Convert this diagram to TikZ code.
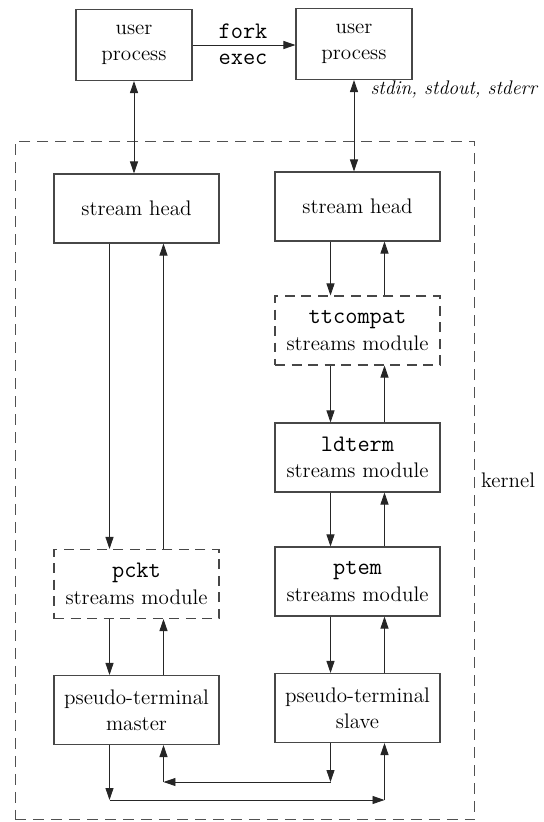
\documentclass[tikz,border=0pt]{standalone}
\usepackage{fontspec}
\usetikzlibrary{arrows.meta,positioning,calc}
\definecolor{ink}{RGB}{38,38,38}
\newcommand{\figsize}{\fontsize{12}{15}\selectfont}
\newcommand{\codefont}{\fontsize{13.5}{15}\selectfont\ttfamily}

\begin{document}
\begin{tikzpicture}[
  x=0.02cm, y=-0.02cm,
  font=\figsize, text=black,
  box/.style={draw=ink!85, line width=0.6pt, align=center, inner sep=2pt,
              minimum width=3.3cm, minimum height=1.38cm},
  ubox/.style={box, minimum width=2.32cm, minimum height=1.42cm},
  dbox/.style={box, dash pattern=on 2mm off 1.3mm},
  kbox/.style={draw=ink!80, line width=0.6pt, dash pattern=on 2.2mm off 1.4mm},
  ar/.style={-{Triangle[length=2.4mm,width=1.6mm]}, draw=ink, line width=0.5pt},
  dar/.style={ar, {Triangle[length=2.4mm,width=1.6mm]}-{Triangle[length=2.4mm,width=1.6mm]}},
  lab/.style={inner sep=3pt},
]
\useasboundingbox (0,0) rectangle (544,822);

\node[ubox] (u1) at (134,45) {user\\process};
\node[ubox] (u2) at (354,44) {user\\process};
\node[lab, font=\codefont, align=center] (fe) at (243,44) {fork\\exec};
\node[lab, anchor=west, font=\fontsize{11.2}{13}\selectfont\itshape] (std) at (365,90) {stdin, stdout, stderr};

\node[kbox, minimum width=9.2cm, minimum height=13.58cm] (kern) at (245,480.5) {};
\node[lab, anchor=west] (klab) at (kern.east) {kernel};

\node[box]  (sh1)    at (136.5,208.5) {stream head};
\node[dbox] (pckt)   at (136.5,584)   {{\codefont pckt}\\streams module};
\node[box]  (master) at (136.5,710)   {pseudo-terminal\\master};

\node[box]  (sh2)   at (357.5,206.5) {stream head};
\node[dbox] (ttc)   at (357.5,330.5) {{\codefont ttcompat}\\streams module};
\node[box]  (ldt)   at (357.5,457.5) {{\codefont ldterm}\\streams module};
\node[box]  (ptem)  at (357.5,581.5) {{\codefont ptem}\\streams module};
\node[box]  (slave) at (357.5,708)   {pseudo-terminal\\slave};

\coordinate (sd) at (330.5,782);
\coordinate (mu) at (163.5,782);
\coordinate (md) at (109.5,800);
\coordinate (su) at (384.5,800);

\draw[ar] (u1.east) -- (u1.east -| u2.west);
\draw[dar] (u1.south) -- (u1.south |- sh1.north);
\draw[dar] (u2.south) -- (u2.south |- sh2.north);

% left side
\draw[ar] ([xshift=-5.4mm]sh1.south) -- ([xshift=-5.4mm]pckt.north);
\draw[ar] ([xshift=5.4mm]pckt.north) -- ([xshift=5.4mm]sh1.south);
\draw[ar] ([xshift=-5.4mm]pckt.south) -- ([xshift=-5.4mm]master.north);
\draw[ar] ([xshift=5.4mm]master.north) -- ([xshift=5.4mm]pckt.south);

% right side
\draw[ar] ([xshift=-5.4mm]sh2.south) -- ([xshift=-5.4mm]ttc.north);
\draw[ar] ([xshift=5.4mm]ttc.north) -- ([xshift=5.4mm]sh2.south);
\draw[ar] ([xshift=-5.4mm]ttc.south) -- ([xshift=-5.4mm]ldt.north);
\draw[ar] ([xshift=5.4mm]ldt.north) -- ([xshift=5.4mm]ttc.south);
\draw[ar] ([xshift=-5.4mm]ldt.south) -- ([xshift=-5.4mm]ptem.north);
\draw[ar] ([xshift=5.4mm]ptem.north) -- ([xshift=5.4mm]ldt.south);
\draw[ar] ([xshift=-5.4mm]ptem.south) -- ([xshift=-5.4mm]slave.north);
\draw[ar] ([xshift=5.4mm]slave.north) -- ([xshift=5.4mm]ptem.south);

% master <-> slave
\draw[ar] (slave.south -| sd) -- (sd);
\draw[ar] (sd) -- (mu);
\draw[ar] (mu) -- (mu |- master.south);
\draw[ar] (master.south -| md) -- (md);
\draw[ar] (md) -- (su);
\draw[ar] (su) -- (su |- slave.south);

\end{tikzpicture}
\end{document}
